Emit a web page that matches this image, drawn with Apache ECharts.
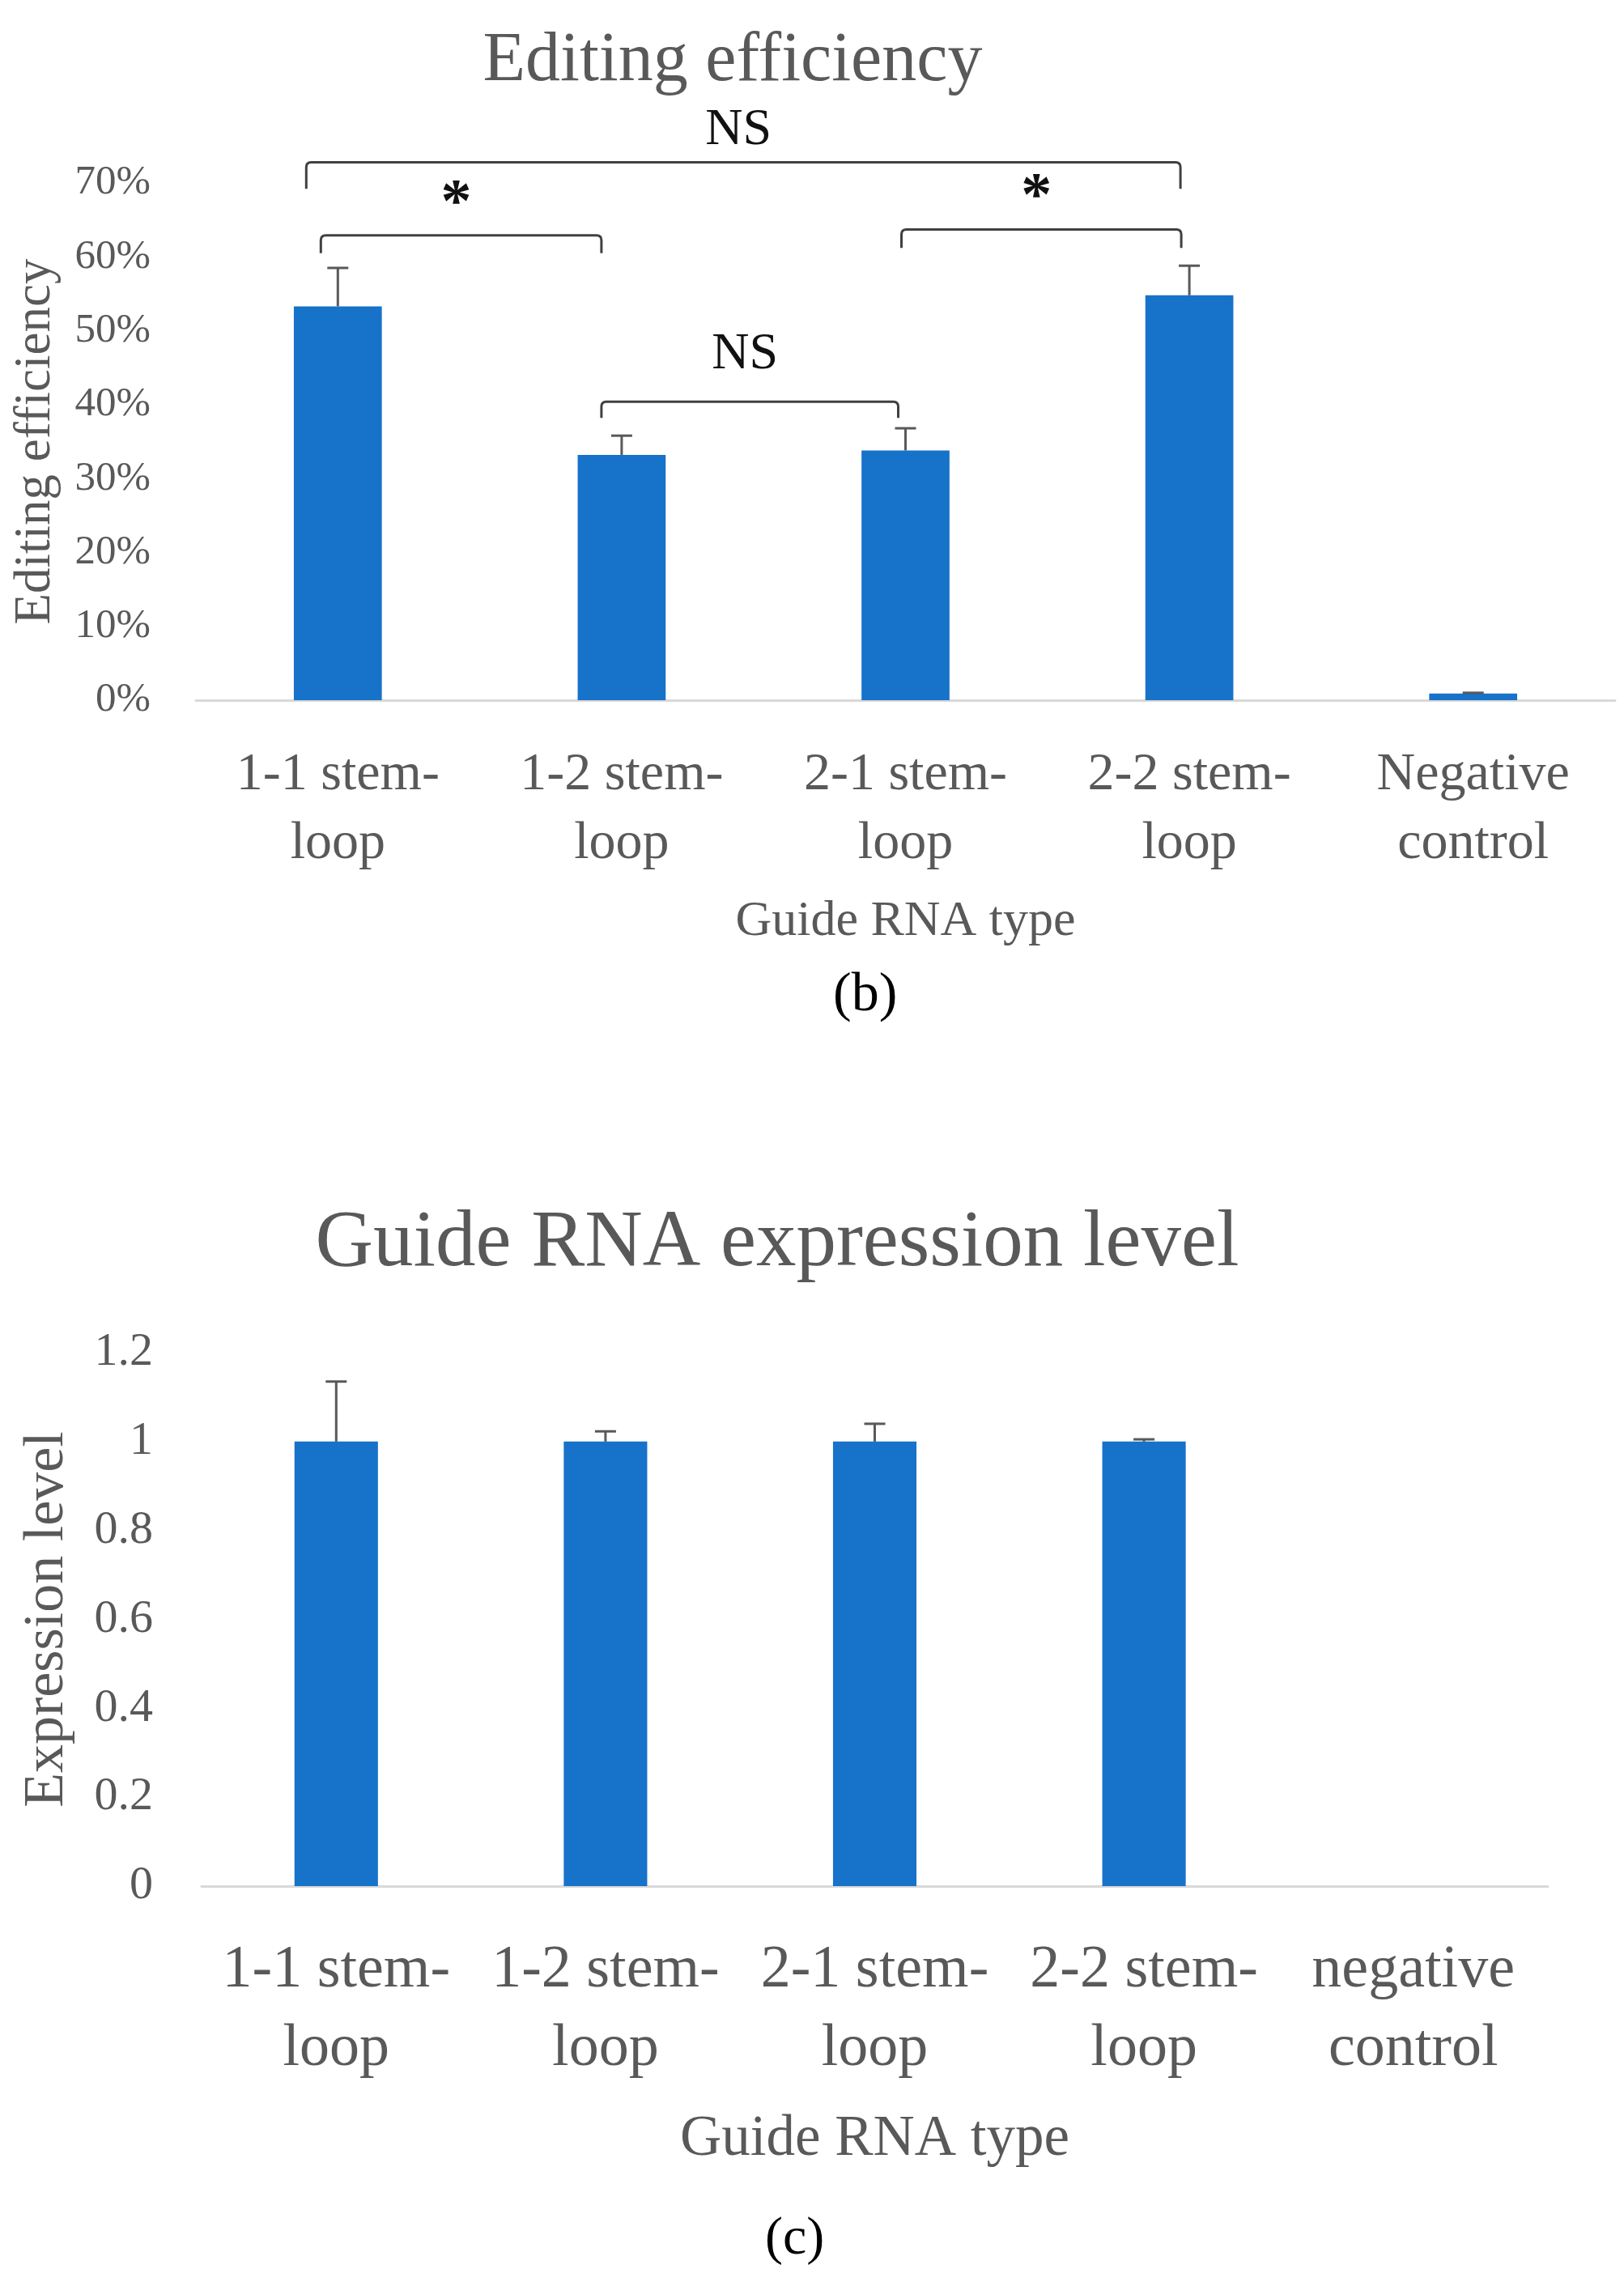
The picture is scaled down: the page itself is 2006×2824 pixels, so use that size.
<!DOCTYPE html>
<html><head><meta charset="utf-8">
<script src="https://cdn.jsdelivr.net/npm/echarts@6/dist/echarts.min.js"></script>
<style>html,body{margin:0;padding:0;background:#fff}#c{width:2006px;height:2824px}</style>
</head><body><div id="c"></div>
<script>
// ---- Data: panel (b) Editing efficiency ----
const categoriesB = ['1-1 stem-loop', '1-2 stem-loop', '2-1 stem-loop', '2-2 stem-loop', 'Negative control'];
const editingEfficiency = [0.533, 0.332, 0.338, 0.548, 0.009];
const editingError = [0.052, 0.026, 0.030, 0.040, 0.001];
const editingTicks = { min: 0, max: 0.7, interval: 0.1 };
// significance brackets: [fromIndex, toIndex, bracketLevel, legEndLevel, labelLevel, label]
const brackets = [
  [0, 3, 0.728, 0.692, 0.771, 'NS'],
  [0, 1, 0.629, 0.605, 0.685, '*'],
  [1, 2, 0.404, 0.382, 0.468, 'NS'],
  [2, 3, 0.637, 0.612, 0.694, '*']
];
// ---- Data: panel (c) Guide RNA expression level ----
const categoriesC = ['1-1 stem-loop', '1-2 stem-loop', '2-1 stem-loop', '2-2 stem-loop', 'negative control'];
const expressionLevel = [1, 1, 1, 1, 0];
const expressionError = [0.135, 0.023, 0.040, 0.005, 0];
const expressionTicks = { min: 0, max: 1.2, interval: 0.2 };

// styling: horizontal nudges (px) of bracket ends relative to bar centres
const bracketNudgePx = [[-39, -11], [-21, -25], [-25, -9], [-5, -10]];

const FONT = 'Liberation Serif';
const GREY = '#595959';
const BLUE = '#1772c9';

function splitLabel(s) {
  return s.replace('stem-', 'stem-\n').replace(' control', '\ncontrol');
}

function errorRender(params, api) {
  const i = api.value(0), v = api.value(1), t = api.value(2);
  if (t - v <= 0) return null;
  const p0 = api.coord([i, v]);
  const p1 = api.coord([i, t]);
  const half = 13;
  return {
    type: 'group',
    children: [
      { type: 'line', shape: { x1: p0[0], y1: p0[1], x2: p1[0], y2: p1[1] }, style: { stroke: GREY, lineWidth: 3 } },
      { type: 'line', shape: { x1: p1[0] - half, y1: p1[1], x2: p1[0] + half, y2: p1[1] }, style: { stroke: GREY, lineWidth: 3 } }
    ]
  };
}

function bracketRender(params, api) {
  const b = brackets[params.dataIndex];
  const n = bracketNudgePx[params.dataIndex];
  const x0 = api.coord([api.value(0), 0])[0] + n[0];
  const x1 = api.coord([api.value(1), 0])[0] + n[1];
  const yl = api.coord([api.value(0), api.value(2)])[1];
  const yleg = api.coord([api.value(0), api.value(3)])[1];
  const ylab = api.coord([api.value(0), api.value(4)])[1];
  const isStar = b[5] === '*';
  const r = 6;
  return {
    type: 'group',
    children: [
      { type: 'path', shape: { pathData:
          'M' + x0 + ' ' + yleg + ' L' + x0 + ' ' + (yl + r) + ' Q' + x0 + ' ' + yl + ' ' + (x0 + r) + ' ' + yl +
          ' L' + (x1 - r) + ' ' + yl + ' Q' + x1 + ' ' + yl + ' ' + x1 + ' ' + (yl + r) + ' L' + x1 + ' ' + yleg },
        style: { stroke: '#404040', lineWidth: 3, fill: null } },
      { type: 'text', style: { text: b[5], x: (x0 + x1) / 2 - 6, y: ylab + (isStar ? 14 : 0),
        align: 'center', verticalAlign: 'middle',
        font: (isStar ? 'bold 76px ' : '64px ') + FONT, fill: '#111' } }
    ]
  };
}

const chart = echarts.init(document.getElementById('c'));
chart.setOption({
  animation: false,
  backgroundColor: '#fff',
  textStyle: { fontFamily: FONT },
  title: [
    { text: 'Editing efficiency', left: 900, top: 28, textAlign: 'center',
      textStyle: { fontFamily: FONT, fontSize: 86, fontWeight: 'normal', color: GREY } },
    { text: 'Guide RNA expression level', left: 955, top: 1482, textAlign: 'center',
      textStyle: { fontFamily: FONT, fontSize: 99, fontWeight: 'normal', color: GREY } }
  ],
  graphic: [
    { type: 'text', left: 1065 - 36, top: 1236 - 40, style: { text: '(b)', font: '68px ' + FONT, fill: '#000' } },
    { type: 'text', left: 979 - 34, top: 2773 - 39, style: { text: '(c)', font: '66px ' + FONT, fill: '#000' } }
  ],
  grid: [
    { left: 242, width: 1753, top: 226, height: 639 },
    { left: 249, width: 1663, top: 1671, height: 659 }
  ],
  xAxis: [
    { type: 'category', gridIndex: 0, data: categoriesB,
      axisLine: { lineStyle: { color: '#d9d9d9', width: 3 } }, axisTick: { show: false },
      axisLabel: { interval: 0, formatter: splitLabel, fontSize: 66, lineHeight: 85, margin: 50, color: GREY, fontFamily: FONT },
      name: 'Guide RNA type', nameLocation: 'middle', nameGap: 243,
      nameTextStyle: { fontSize: 62, color: GREY, fontFamily: FONT } },
    { type: 'category', gridIndex: 1, data: categoriesC,
      axisLine: { lineStyle: { color: '#d9d9d9', width: 3 } }, axisTick: { show: false },
      axisLabel: { interval: 0, formatter: splitLabel, fontSize: 74, lineHeight: 97, margin: 56, color: GREY, fontFamily: FONT },
      name: 'Guide RNA type', nameLocation: 'middle', nameGap: 278,
      nameTextStyle: { fontSize: 71, color: GREY, fontFamily: FONT } }
  ],
  yAxis: [
    { type: 'value', gridIndex: 0, min: editingTicks.min, max: editingTicks.max, interval: editingTicks.interval,
      splitLine: { show: false }, axisLine: { show: false }, axisTick: { show: false },
      axisLabel: { formatter: v => Math.round(v * 100) + '%', fontSize: 51, margin: 56, color: GREY, fontFamily: FONT },
      name: 'Editing efficiency', nameLocation: 'middle', nameGap: 166,
      nameTextStyle: { fontSize: 63, color: GREY, fontFamily: FONT } },
    { type: 'value', gridIndex: 1, min: expressionTicks.min, max: expressionTicks.max, interval: expressionTicks.interval,
      splitLine: { show: false }, axisLine: { show: false }, axisTick: { show: false },
      axisLabel: { formatter: v => String(+v.toFixed(1)), fontSize: 58, margin: 60, color: GREY, fontFamily: FONT },
      name: 'Expression level', nameLocation: 'middle', nameGap: 155,
      nameTextStyle: { fontSize: 70, color: GREY, fontFamily: FONT } }
  ],
  series: [
    { type: 'bar', xAxisIndex: 0, yAxisIndex: 0, data: editingEfficiency, barWidth: '31%', itemStyle: { color: BLUE } },
    { type: 'custom', xAxisIndex: 0, yAxisIndex: 0, renderItem: errorRender, z: 5,
      data: editingEfficiency.map((v, i) => [i, v, v + editingError[i]]), encode: { x: 0, y: [1, 2] } },
    { type: 'custom', xAxisIndex: 0, yAxisIndex: 0, renderItem: bracketRender, z: 6, clip: false,
      data: brackets.map(b => [b[0], b[1], b[2], b[3], b[4]]), encode: { x: [0, 1], y: [2, 3, 4] } },
    { type: 'bar', xAxisIndex: 1, yAxisIndex: 1, data: expressionLevel, barWidth: '31%', itemStyle: { color: BLUE } },
    { type: 'custom', xAxisIndex: 1, yAxisIndex: 1, renderItem: errorRender, z: 5,
      data: expressionLevel.map((v, i) => [i, v, v + expressionError[i]]), encode: { x: 0, y: [1, 2] } }
  ]
});
</script></body></html>
